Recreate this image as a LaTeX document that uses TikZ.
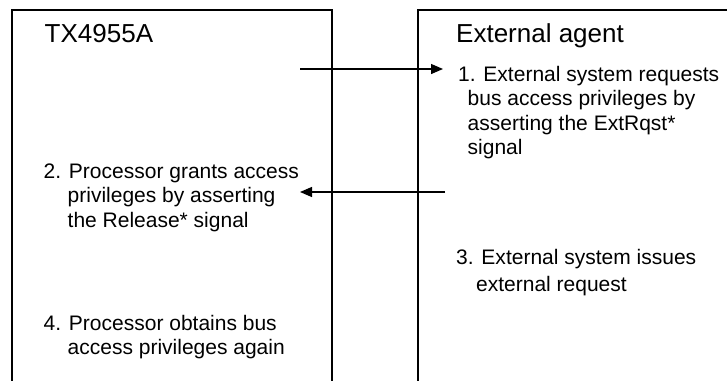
\documentclass[tikz,border=0pt]{standalone}
\usepackage{fontspec}
\setmainfont{Liberation Sans}
\usetikzlibrary{arrows.meta}
\begin{document}
\begin{tikzpicture}[x=1pt,y=-1pt,
  boxline/.style={line width=1.6pt, line join=miter},
  sig/.style={line width=1.3pt, -{Triangle[length=12pt,width=10pt]}},
  head/.style={anchor=base west, inner sep=0pt, font=\fontsize{26}{30}\selectfont},
  item/.style={anchor=base west, inner sep=0pt, font=\fontsize{21}{24.5}\selectfont}]
\useasboundingbox (0,0) rectangle (727,380);
% boxes
\draw[boxline] (12,381) -- (12,10) -- (332,10) -- (332,381);
\draw[boxline] (418,381) -- (418,10) -- (728,10);
% headings
\node[head] (tx) at (44.5,42) {TX4955A};
\node[head] (ext) at (456,42) {External agent};
% items
\node[item] (s1) at (458,81) {\begin{tabular}[t]{@{}l@{}}1. External system requests\\\hspace*{9.5pt}bus access privileges by\\\hspace*{9.5pt}asserting the ExtRqst*\\\hspace*{9.5pt}signal\end{tabular}};
\node[item] (s2) at (43.5,178) {\begin{tabular}[t]{@{}l@{}}2. Processor grants access\\\hspace*{24pt}privileges by asserting\\\hspace*{24pt}the Release* signal\end{tabular}};
\node[item] (s3) at (456,264) {\begin{tabular}[t]{@{}l@{}}3. External system issues\\[2.5pt]\hspace*{20pt}external request\end{tabular}};
\node[item] (s4) at (43.5,330) {\begin{tabular}[t]{@{}l@{}}4. Processor obtains bus\\\hspace*{24pt}access privileges again\end{tabular}};
% signal arrows
\coordinate (a1s) at (300,69);
\coordinate (a1e) at (443,69);
\coordinate (a2s) at (445,192);
\coordinate (a2e) at (300,192);
\draw[sig] (a1s) -- (a1e);
\draw[sig] (a2s) -- (a2e);
\end{tikzpicture}
\end{document}
